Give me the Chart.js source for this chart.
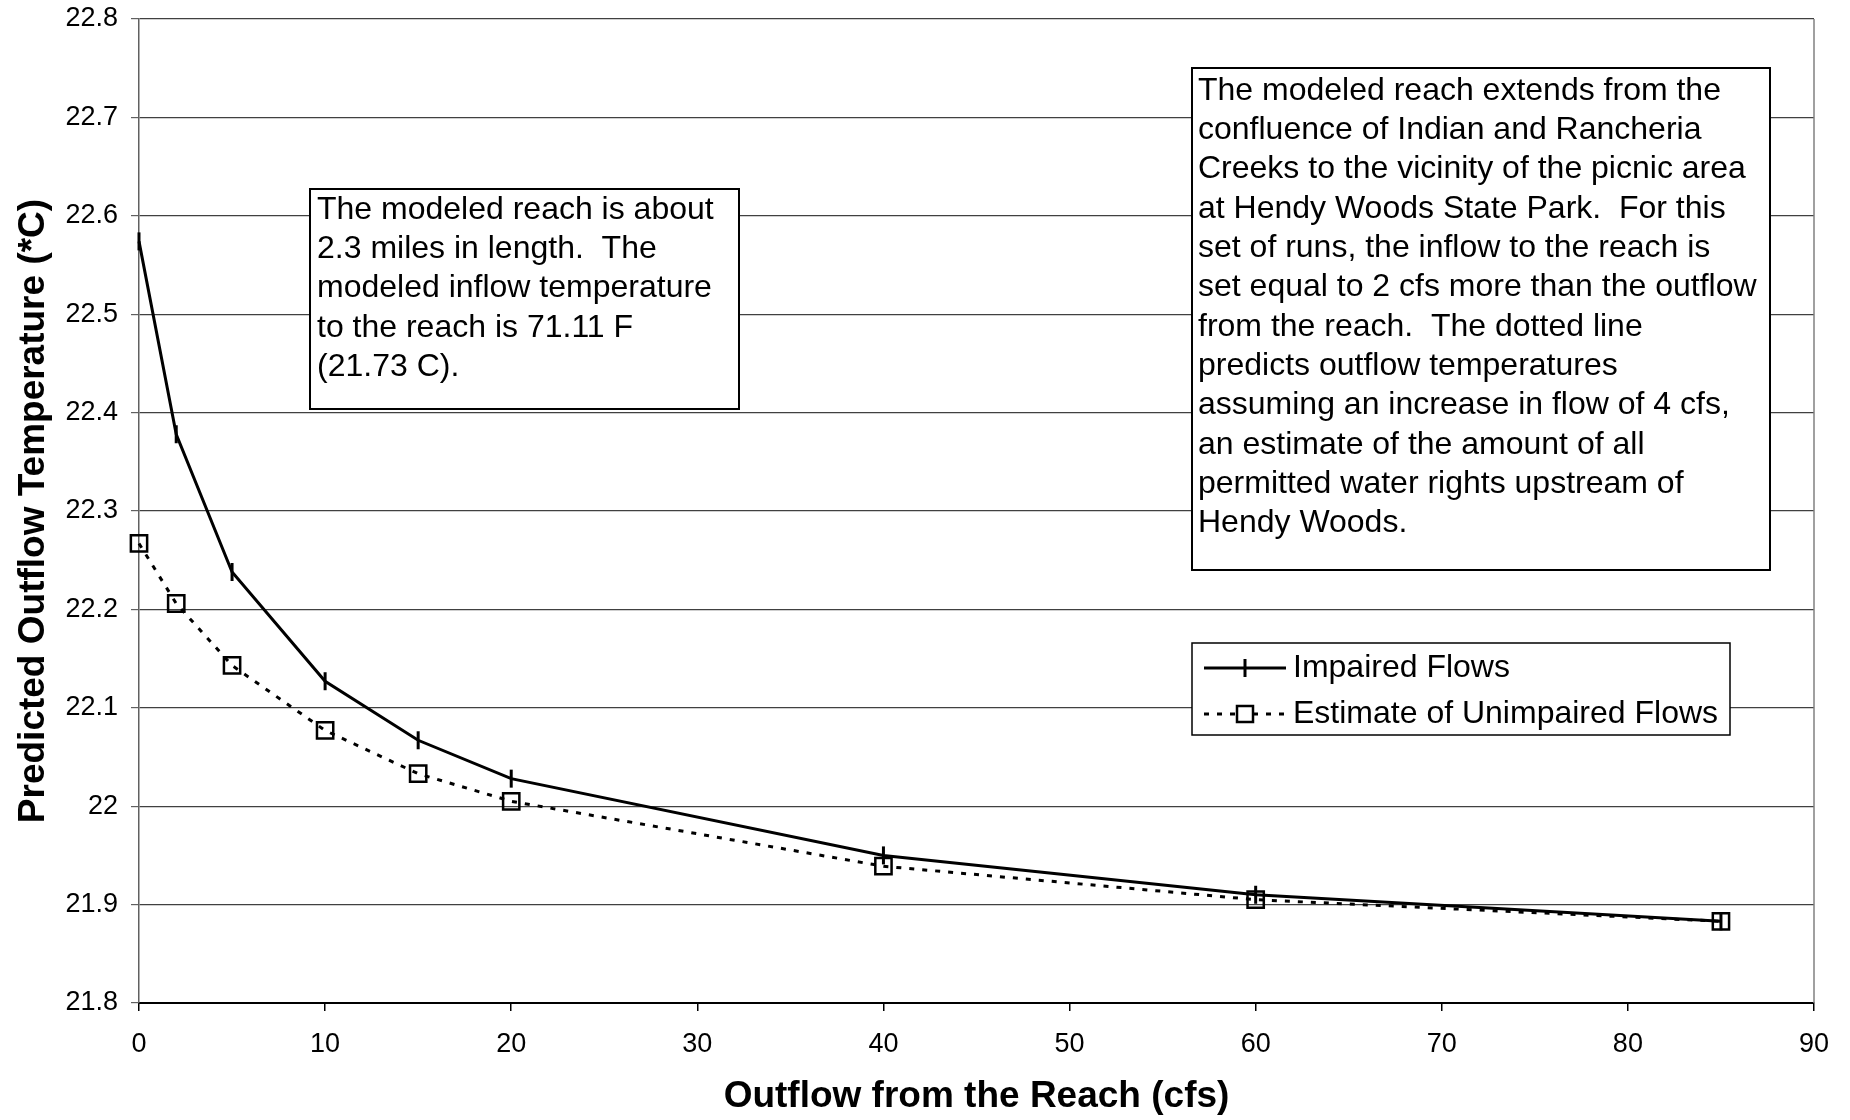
<!DOCTYPE html>
<html>
<head>
<meta charset="utf-8">
<script src="https://cdn.jsdelivr.net/npm/chart.js@4.4.0/dist/chart.umd.min.js"></script>
<style>
  html, body { margin: 0; padding: 0; background: #fff; }
  canvas { display: block; }
</style>
</head>
<body>
<canvas id="chart" width="1850" height="1120"></canvas>
<script>
// --- DATA ---
const flows = [0, 2, 5, 10, 15, 20, 40, 60, 85];
const impaired = [22.574, 22.378, 22.238, 22.127, 22.067, 22.028, 21.950, 21.910, 21.883];
const unimpaired = [22.267, 22.206, 22.143, 22.077, 22.033, 22.005, 21.939, 21.905, 21.883];

const xTicks = [0, 10, 20, 30, 40, 50, 60, 70, 80, 90];
const yTicks = [21.8, 21.9, 22.0, 22.1, 22.2, 22.3, 22.4, 22.5, 22.6, 22.7, 22.8];
const yTickLabels = ['21.8', '21.9', '22', '22.1', '22.2', '22.3', '22.4', '22.5', '22.6', '22.7', '22.8'];

const seriesNames = ['Impaired Flows', 'Estimate of Unimpaired Flows'];
const xTitle = 'Outflow from the Reach (cfs)';
const yTitle = 'Predicted Outflow Temperature (*C)';

const noteLeft = [
    'The modeled reach is about',
    '2.3 miles in length.  The',
    'modeled inflow temperature',
    'to the reach is 71.11 F',
    '(21.73 C).'
];
const noteRight = [
    'The modeled reach extends from the',
    'confluence of Indian and Rancheria',
    'Creeks to the vicinity of the picnic area',
    'at Hendy Woods State Park.  For this',
    'set of runs, the inflow to the reach is',
    'set equal to 2 cfs more than the outflow',
    'from the reach.  The dotted line',
    'predicts outflow temperatures',
    'assuming an increase in flow of 4 cfs,',
    'an estimate of the amount of all',
    'permitted water rights upstream of',
    'Hendy Woods.'
];

const FONT = "'Liberation Sans', Arial, sans-serif";
const DOTS = [5, 8];

// text boxes + legend drawn on top of the plot, Excel style
function drawNote(ctx, lines, box, textX, firstY, step) {
    ctx.save();
    ctx.fillStyle = '#fff';
    ctx.fillRect(box.x, box.y, box.w, box.h);
    ctx.strokeStyle = '#000';
    ctx.lineWidth = 2;
    ctx.strokeRect(box.x, box.y, box.w, box.h);
    ctx.fillStyle = '#000';
    ctx.font = '32px ' + FONT;
    ctx.textBaseline = 'middle';
    ctx.textAlign = 'left';
    lines.forEach((line, i) => ctx.fillText(line, textX, firstY + i * step));
    ctx.restore();
}

const overlayPlugin = {
    id: 'overlay',
    afterDraw(chart) {
        const ctx = chart.ctx;
        const area = chart.chartArea;

        // right edge of the plot area
        ctx.save();
        ctx.strokeStyle = '#808080';
        ctx.lineWidth = 1.5;
        ctx.beginPath();
        ctx.moveTo(area.right, area.top);
        ctx.lineTo(area.right, area.bottom);
        ctx.stroke();
        ctx.restore();

        drawNote(ctx, noteLeft, { x: 310, y: 189, w: 429, h: 220 }, 317, 210, 39.3);
        drawNote(ctx, noteRight, { x: 1192, y: 68, w: 578, h: 502 }, 1198, 91, 39.3);

        // legend
        const lg = { x: 1192, y: 643, w: 538, h: 92 };
        ctx.save();
        ctx.fillStyle = '#fff';
        ctx.fillRect(lg.x, lg.y, lg.w, lg.h);
        ctx.strokeStyle = '#000';
        ctx.lineWidth = 1.5;
        ctx.strokeRect(lg.x, lg.y, lg.w, lg.h);

        const rows = [668, 714];
        const x0 = 1204, x1 = 1286, xm = 1245;
        ctx.lineWidth = 3;

        // Impaired: solid line with vertical dash
        ctx.beginPath();
        ctx.moveTo(x0, rows[0]);
        ctx.lineTo(x1, rows[0]);
        ctx.stroke();
        ctx.beginPath();
        ctx.moveTo(xm, rows[0] - 9);
        ctx.lineTo(xm, rows[0] + 9);
        ctx.stroke();

        // Unimpaired: dotted line with open square
        ctx.setLineDash(DOTS);
        ctx.beginPath();
        ctx.moveTo(x0, rows[1]);
        ctx.lineTo(xm - 8, rows[1]);
        ctx.moveTo(xm + 8, rows[1]);
        ctx.lineTo(x1, rows[1]);
        ctx.stroke();
        ctx.setLineDash([]);
        ctx.lineWidth = 2.5;
        ctx.strokeRect(xm - 8, rows[1] - 8, 16, 16);

        ctx.fillStyle = '#000';
        ctx.font = '32px ' + FONT;
        ctx.textBaseline = 'middle';
        ctx.fillText(seriesNames[0], 1293, rows[0]);
        ctx.fillText(seriesNames[1], 1293, rows[1]);
        ctx.restore();
    }
};

const ctx = document.getElementById('chart').getContext('2d');
new Chart(ctx, {
    type: 'line',
    data: {
        datasets: [
            {
                label: seriesNames[0],
                data: flows.map((f, i) => ({ x: f, y: impaired[i] })),
                borderColor: '#000',
                borderWidth: 3,
                pointStyle: 'line',
                pointRotation: 90,
                pointRadius: 9,
                pointBorderWidth: 3,
                pointBorderColor: '#000',
                tension: 0,
                clip: false
            },
            {
                label: seriesNames[1],
                data: flows.map((f, i) => ({ x: f, y: unimpaired[i] })),
                borderColor: '#000',
                borderWidth: 3,
                borderDash: DOTS,
                pointStyle: 'rect',
                pointRadius: 11.5,
                pointBorderWidth: 2.5,
                pointBorderColor: '#000',
                pointBackgroundColor: 'rgba(0,0,0,0)',
                tension: 0,
                clip: false
            }
        ]
    },
    options: {
        responsive: false,
        devicePixelRatio: 1,
        animation: false,
        layout: { padding: { top: 19, right: 36, bottom: 0, left: 0 } },
        plugins: {
            legend: { display: false },
            tooltip: { enabled: false }
        },
        scales: {
            x: {
                type: 'linear',
                min: 0,
                max: 90,
                afterBuildTicks: (scale) => { scale.ticks = xTicks.map(v => ({ value: v })); },
                afterFit: (scale) => {
                    scale.height = 117;
                    scale.paddingLeft = 0;
                    scale.paddingRight = 0;
                },
                grid: { drawOnChartArea: false, tickLength: 8, color: '#000', lineWidth: 1.5 },
                border: { color: '#000', width: 2 },
                ticks: { color: '#000', font: { size: 27, family: FONT }, padding: 17, maxRotation: 0 },
                title: {
                    display: true,
                    text: xTitle,
                    color: '#000',
                    font: { size: 37, weight: 'bold', family: FONT },
                    padding: { top: 0, bottom: 1 }
                }
            },
            y: {
                type: 'linear',
                min: 21.8,
                max: 22.8,
                afterBuildTicks: (scale) => { scale.ticks = yTicks.map(v => ({ value: v })); },
                afterFit: (scale) => {
                    scale.width = 139;
                    scale.paddingTop = 0;
                    scale.paddingBottom = 0;
                },
                grid: { color: '#404040', lineWidth: 1.2, tickLength: 8, tickColor: '#606060' },
                border: { color: '#606060', width: 1.5 },
                ticks: {
                    color: '#000',
                    font: { size: 27, family: FONT },
                    padding: 13,
                    callback: (value) => {
                        const i = yTicks.findIndex(t => Math.abs(t - value) < 1e-6);
                        return i >= 0 ? yTickLabels[i] : '';
                    }
                },
                title: {
                    display: true,
                    text: yTitle,
                    color: '#000',
                    font: { size: 37, weight: 'bold', family: FONT },
                    padding: { top: 12, bottom: 0 }
                }
            }
        }
    },
    plugins: [overlayPlugin]
});
</script>
</body>
</html>
